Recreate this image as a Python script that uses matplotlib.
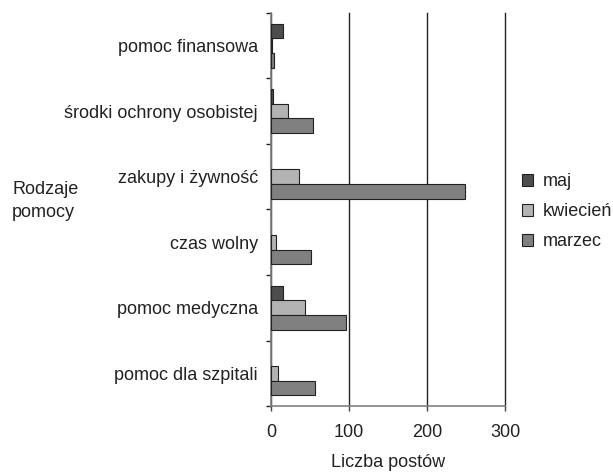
import numpy as np
import matplotlib.pyplot as plt
from matplotlib.ticker import FixedLocator

plt.rcParams['font.family'] = ['Liberation Sans', 'DejaVu Sans']

# kategorie od dołu do góry
kategorie = ['pomoc dla szpitali', 'pomoc medyczna', 'czas wolny',
             'zakupy i żywność', 'środki ochrony osobistej', 'pomoc finansowa']
maj = [0, 16, 0, 0, 3, 15]
kwiecien = [9, 44, 6, 36, 22, 1]
marzec = [56, 96, 51, 248, 54, 4]

serie = ['maj', 'kwiecień', 'marzec']
kolory = ['#4d4d4d', '#b3b3b3', '#808080']

fig = plt.figure(figsize=(6.13, 4.73), dpi=100, facecolor='white')
ax = fig.add_axes([0.442, 0.1416, 0.382, 0.831])

y = np.arange(len(kategorie))
h = 0.222
# zera nie są rysowane
def bez_zer(v):
    v = np.array(v, dtype=float)
    v[v == 0] = np.nan
    return v

ax.barh(y + h, bez_zer(maj), height=h, color=kolory[0], edgecolor='#222222', linewidth=0.8, label=serie[0], zorder=3)
ax.barh(y, bez_zer(kwiecien), height=h, color=kolory[1], edgecolor='#222222', linewidth=0.8, label=serie[1], zorder=3)
ax.barh(y - h, bez_zer(marzec), height=h, color=kolory[2], edgecolor='#222222', linewidth=0.8, label=serie[2], zorder=3)

ax.set_xlim(0, 300)
ax.set_ylim(-0.5, len(kategorie) - 0.5)
ax.set_xticks([0, 100, 200, 300])
ax.set_yticks(y)
ax.set_yticklabels(kategorie, fontsize=13, color='#222222')
ax.yaxis.set_minor_locator(FixedLocator(np.arange(-0.5, len(kategorie), 1.0)))
ax.tick_params(axis='y', which='major', length=0, pad=9.5)
ax.tick_params(axis='y', which='minor', length=3.6, width=1, color='#222222')
ax.tick_params(axis='x', which='major', length=3.6, width=1, color='#444444',
               labelsize=13, labelcolor='#222222', pad=9)

# siatka pionowa
ax.grid(True, axis='x', color='#222222', linewidth=1, zorder=0)
for gl in ax.get_xgridlines():
    gl.set_clip_on(False)
for s in ['top', 'right']:
    ax.spines[s].set_visible(False)
ax.spines['left'].set_color('#808080')
ax.spines['bottom'].set_color('#808080')
ax.spines['left'].set_linewidth(1.2)
ax.spines['bottom'].set_linewidth(1.2)

ax.set_xlabel('Liczba postów', fontsize=13, color='#222222', labelpad=10)
fig.text(0.02, 0.575, 'Rodzaje\npomocy', fontsize=13, color='#222222',
         ha='left', va='center', linespacing=1.5)

leg = ax.legend(loc='center left', bbox_to_anchor=(0.851, 0.552), bbox_transform=fig.transFigure,
                frameon=False, fontsize=13, handlelength=0.65, handleheight=0.65,
                handletextpad=0.5, labelspacing=0.72, borderaxespad=0, borderpad=0)
for t in leg.get_texts():
    t.set_color('#222222')

fig.savefig('out.png', dpi=100)
